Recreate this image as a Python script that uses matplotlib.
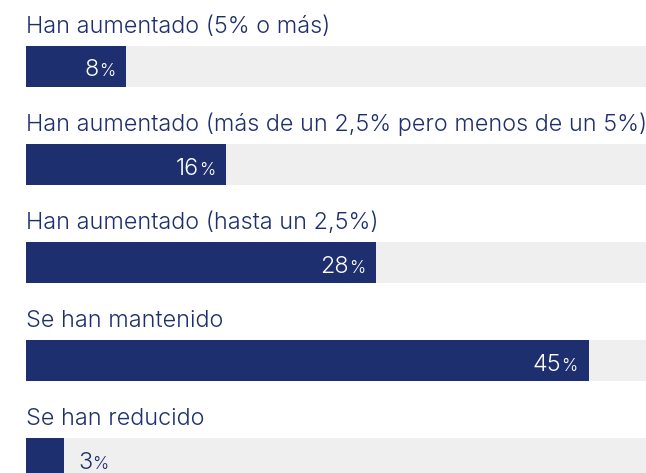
import matplotlib.pyplot as plt

# Datos
categorias = [
    'Han aumentado (5% o más)',
    'Han aumentado (más de un 2,5% pero menos de un 5%)',
    'Han aumentado (hasta un 2,5%)',
    'Se han mantenido',
    'Se han reducido',
]
valores = [8, 16, 28, 45, 3]

azul = '#1e2f6f'
gris = '#efefef'
fuente = 'Inter'
peso = 300

W, H = 646, 473
fig = plt.figure(figsize=(W / 100, H / 100), dpi=100)
x0 = 26
ax = fig.add_axes([x0 / W, 0, 1 - x0 / W, 1])
px = 12.5  # pixeles por punto porcentual
ax.set_xlim(0, (W - x0) / px)
ax.set_ylim(H, 0)
ax.axis('off')

# ajustar el tamaño de letra para que la etiqueta larga ocupe ~620 px
r = fig.canvas.get_renderer()
prueba = fig.text(0, 0, categorias[1], fontsize=18, family=fuente, weight=peso)
ancho = prueba.get_window_extent(r).width
prueba.remove()
tam = 18 * 620 / ancho
tam_pct = tam * 0.74

paso = 98
alto = 41
centros = [66.5 + i * paso for i in range(len(valores))]

ax.barh(centros, [100] * len(valores), height=alto, left=0, color=gris, zorder=1)
ax.barh(centros, valores, height=alto, left=0, color=azul, zorder=2)

for cat, val, yc in zip(categorias, valores, centros):
    ax.text(0, yc - alto / 2 - 13, cat, ha='left', va='baseline',
            fontsize=tam, family=fuente, weight=peso, color=azul)
    base = yc + 10
    if val >= 6:
        pct = ax.annotate('%', xy=(val, base), xytext=(-11, 0), textcoords='offset pixels',
                          ha='right', va='baseline', fontsize=tam_pct, family=fuente, weight=peso,
                          color='white', zorder=3)
        ax.annotate(str(val), xy=(0, base), xycoords=(pct, 'data'), ha='right', va='baseline',
                    fontsize=tam, family=fuente, weight=peso, color='white', zorder=3)
    else:
        # el número va fuera de la barra
        num = ax.annotate(str(val), xy=(val, base), xytext=(15, 0), textcoords='offset pixels',
                          ha='left', va='baseline', fontsize=tam, family=fuente, weight=peso,
                          color=azul, zorder=3)
        ax.annotate('%', xy=(1, base), xycoords=(num, 'data'), ha='left', va='baseline',
                    fontsize=tam_pct, family=fuente, weight=peso, color=azul, zorder=3)

fig.savefig('out.png', dpi=100)
